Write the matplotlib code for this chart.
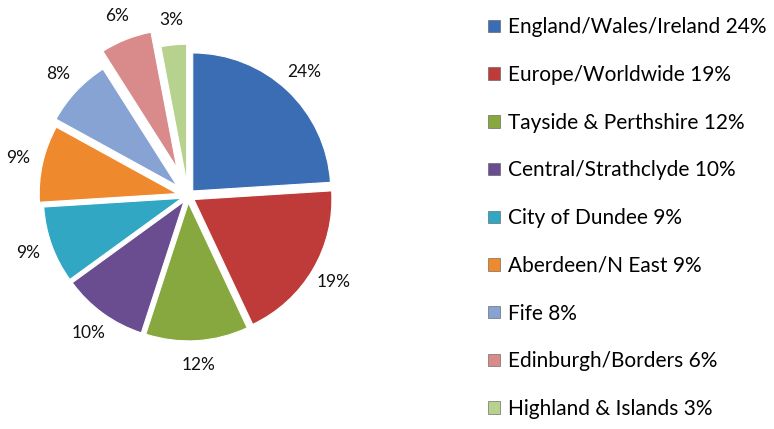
import matplotlib.pyplot as plt
from matplotlib.patches import Patch

regions = ["England/Wales/Ireland", "Europe/Worldwide", "Tayside & Perthshire",
           "Central/Strathclyde", "City of Dundee", "Aberdeen/N East", "Fife",
           "Edinburgh/Borders", "Highland & Islands"]
shares = [24, 19, 12, 10, 9, 9, 8, 6, 3]
colors = ["#3A6DB3", "#BF3B3A", "#86A83F", "#6A4D91", "#31A7C4",
          "#EE8A2D", "#87A3D3", "#D88B8A", "#B7D28F"]
explode = [0.05, 0.05, 0.05, 0.05, 0.05, 0.08, 0.11, 0.22, 0.10]

plt.rcParams['font.family'] = ['Lato', 'DejaVu Sans']

W, H = 774, 429
fig = plt.figure(figsize=(W / 100, H / 100), dpi=100)

# pie axes: fixed pixel mapping, radius 138 px, centre at (188, 196) from top-left
R = 138.0
cx, cy = 188.0, 196.0
ax = fig.add_axes([0, 0, 380 / W, 1])
ax.set_axis_off()

wedges, texts, autotexts = ax.pie(
    shares, colors=colors, explode=explode, startangle=90, counterclock=False,
    radius=1.0, autopct='%d%%', pctdistance=1.18,
    wedgeprops=dict(edgecolor='white', linewidth=0.8),
    textprops=dict(fontsize=12.5, color='#111111'))
ax.set_xlim(-cx / R, (380 - cx) / R)
ax.set_ylim(-(H - cy) / R, cy / R)

handles = [Patch(facecolor=c, edgecolor='#555555', linewidth=0.4) for c in colors]
labels = [f"{r} {s}%" for r, s in zip(regions, shares)]
fig.legend(handles, labels, loc='upper left', bbox_to_anchor=(480 / W, 1 - 9 / H),
           frameon=False, fontsize=15, labelspacing=1.33,
           handlelength=0.55, handleheight=0.55, handletextpad=0.4, borderaxespad=0)

fig.savefig("out.png", dpi=100)
